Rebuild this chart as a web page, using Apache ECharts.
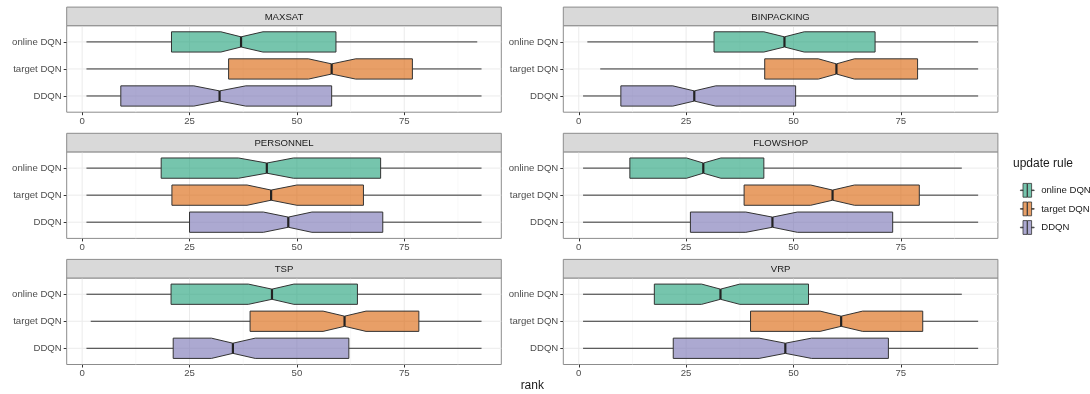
<!DOCTYPE html>
<html><head><meta charset="utf-8">
<script src="https://cdn.jsdelivr.net/npm/echarts@6/dist/echarts.min.js"></script>
<style>html,body{margin:0;padding:0;background:#fff}#c{width:1090px;height:394px}</style>
</head><body><div id="c"></div>
<script>
const rules = ['online DQN', 'target DQN', 'DDQN'];
const problems = ['MAXSAT', 'BINPACKING', 'PERSONNEL', 'FLOWSHOP', 'TSP', 'VRP'];
const xTicks = [0, 25, 50, 75];
const xMinorTicks = [12.5, 37.5, 62.5, 87.5];
const xRange = [-3.6, 97.6];
// per rule: [whiskerLow, q1, notchLow, median, notchHigh, q3, whiskerHigh]
const MAXSAT = [
  [1, 20.8, 32.3, 37.0, 42.1, 59.1, 92.0],
  [1, 34.1, 52.7, 58.1, 63.7, 76.9, 93.0],
  [1, 9.0, 26.0, 32.0, 38.1, 58.1, 93.0]
];
const BINPACKING = [
  [2, 31.5, 43.1, 47.9, 52.5, 69.0, 93.0],
  [5, 43.3, 55.8, 60.0, 64.2, 78.9, 93.0],
  [1, 9.8, 21.9, 26.9, 31.9, 50.5, 93.0]
];
const PERSONNEL = [
  [1, 18.4, 36.4, 43.0, 49.2, 69.5, 93.0],
  [1, 20.9, 38.4, 44.0, 50.0, 65.5, 93.0],
  [1, 25.0, 42.2, 48.0, 53.5, 70.0, 93.0]
];
const FLOWSHOP = [
  [1, 11.9, 25.1, 29.0, 33.1, 43.1, 89.2],
  [1, 38.5, 54.0, 59.1, 64.2, 79.3, 93.0],
  [1, 26.0, 38.9, 45.1, 50.9, 73.1, 93.0]
];
const TSP = [
  [1, 20.7, 38.7, 44.2, 49.3, 64.1, 93.0],
  [2, 39.1, 56.1, 61.1, 66.1, 78.4, 93.0],
  [1, 21.2, 30.1, 35.1, 40.3, 62.1, 93.0]
];
const VRP = [
  [1, 17.6, 28.6, 33.0, 37.5, 53.5, 89.2],
  [1, 40.0, 56.2, 61.1, 66.1, 80.1, 93.0],
  [1, 22.0, 42.0, 48.1, 54.2, 72.1, 93.0]
];
const stats = { MAXSAT, BINPACKING, PERSONNEL, FLOWSHOP, TSP, VRP };
const fills = ['rgba(27,158,119,0.6)', 'rgba(217,95,2,0.6)', 'rgba(117,112,179,0.6)'];

const FONT = 'Liberation Sans';
const colLeft = [66.7, 563.3], panelW = 434.6;
const rowTop = [25.7, 151.9, 278.0], panelH = 86.5, stripH = 18.6;
const yPos = rules.map((r, i) => i + 1);

const grids = [], xAxes = [], yAxes = [], series = [], graphics = [];
problems.forEach((p, i) => {
  const r = Math.floor(i / 2), c = i % 2;
  grids.push({ left: colLeft[c], top: rowTop[r], width: panelW, height: panelH, show: true,
    borderColor: '#8c8c8c', borderWidth: 1, backgroundColor: 'transparent',
    containLabel: false, outerBoundsMode: 'none' });
  xAxes.push({ type: 'value', gridIndex: i, min: xRange[0], max: xRange[1], position: 'bottom',
    axisLine: { show: false, onZero: false }, splitLine: { show: false }, minorTick: { show: false },
    axisTick: { show: true, customValues: xTicks, length: 3, lineStyle: { color: '#333' } },
    axisLabel: { customValues: xTicks, margin: 4, fontSize: 9.6, color: '#4d4d4d', fontFamily: FONT } });
  yAxes.push({ type: 'value', gridIndex: i, min: 0.4, max: 3.6, inverse: true, position: 'left',
    axisLine: { show: false, onZero: false }, splitLine: { show: false },
    axisTick: { show: true, customValues: yPos, length: 3, lineStyle: { color: '#333' } },
    axisLabel: { customValues: yPos, formatter: v => rules[Math.round(v) - 1], margin: 5,
      fontSize: 9.6, color: '#4d4d4d', fontFamily: FONT } });

  const gridData = [];
  xTicks.forEach(v => gridData.push([0, v]));
  xMinorTicks.forEach(v => gridData.push([1, v]));
  yPos.forEach(v => gridData.push([2, v]));
  series.push({ type: 'custom', xAxisIndex: i, yAxisIndex: i, silent: true, z: 1,
    data: gridData, encode: { x: 1, y: 1 },
    renderItem: (params, api) => {
      const t = api.value(0), v = api.value(1);
      let p1, p2;
      if (t < 2) { p1 = api.coord([v, 0.4]); p2 = api.coord([v, 3.6]); }
      else { p1 = api.coord([xRange[0], v]); p2 = api.coord([xRange[1], v]); }
      return { type: 'line', shape: { x1: p1[0], y1: p1[1], x2: p2[0], y2: p2[1] },
        style: { stroke: t === 1 ? '#f3f3f3' : '#ebebeb', lineWidth: t === 1 ? 0.6 : 1 } };
    } });

  rules.forEach((rule, k) => {
    series.push({ type: 'custom', name: rule, xAxisIndex: i, yAxisIndex: i, z: 2,
      itemStyle: { color: fills[k] },
      data: [[k + 1].concat(stats[p][k])], encode: { x: [1, 2, 3, 4, 5, 6, 7], y: 0 },
      renderItem: (params, api) => {
        const y = api.value(0);
        const X = j => api.coord([api.value(j), y])[0];
        const cy = api.coord([0, y])[1];
        const h = Math.abs(api.size([0, 1])[1]) * 0.75;
        const top = cy - h / 2, bot = cy + h / 2, ins = h / 4;
        const lo = X(1), q1 = X(2), nl = X(3), md = X(4), nh = X(5), q3 = X(6), hi = X(7);
        const ls = { stroke: '#333', lineWidth: 1 };
        return { type: 'group', children: [
          { type: 'line', shape: { x1: lo, y1: cy, x2: q1, y2: cy }, style: ls },
          { type: 'line', shape: { x1: q3, y1: cy, x2: hi, y2: cy }, style: ls },
          { type: 'polygon', shape: { points: [[q1, top], [nl, top], [md, top + ins], [nh, top], [q3, top],
            [q3, bot], [nh, bot], [md, bot - ins], [nl, bot], [q1, bot]] },
            style: { fill: fills[k], stroke: '#333', lineWidth: 1 } },
          { type: 'line', shape: { x1: md, y1: top + ins, x2: md, y2: bot - ins },
            style: { stroke: '#222', lineWidth: 2.2 } }
        ] };
      } });
  });

  graphics.push({ type: 'rect', z: 5, shape: { x: colLeft[c], y: rowTop[r] - stripH, width: panelW, height: stripH },
    style: { fill: '#d9d9d9', stroke: '#8c8c8c', lineWidth: 1 } });
  graphics.push({ type: 'text', z: 6, x: colLeft[c] + panelW / 2, y: rowTop[r] - stripH / 2 + 0.5,
    style: { text: p, fontSize: 9.6, fill: '#1a1a1a', align: 'center', verticalAlign: 'middle', fontFamily: FONT } });
});

graphics.push({ type: 'text', x: (colLeft[0] + colLeft[1] + panelW) / 2, y: 386,
  style: { text: 'rank', fontSize: 12, fill: '#1a1a1a', align: 'center', verticalAlign: 'middle', fontFamily: FONT } });
graphics.push({ type: 'text', x: 1013, y: 164,
  style: { text: 'update rule', fontSize: 12, fill: '#1a1a1a', align: 'left', verticalAlign: 'middle', fontFamily: FONT } });

const chart = echarts.init(document.getElementById('c'), null, { renderer: 'canvas' });
chart.setOption({
  animation: false,
  backgroundColor: '#ffffff',
  grid: grids, xAxis: xAxes, yAxis: yAxes, series: series, graphic: graphics,
  legend: { data: rules, orient: 'vertical', left: 1015, top: 178, itemWidth: 13.8, itemHeight: 13.8, itemGap: 4,
    selectedMode: false,
    icon: 'path://M0,6.6H2.6V7.2H0Z M2.6,0H6.7V13.8H2.6Z M7.1,0H11.2V13.8H7.1Z M11.2,6.6H13.8V7.2H11.2Z',
    itemStyle: { borderColor: '#333', borderWidth: 0.8 },
    textStyle: { fontSize: 9.6, color: '#1a1a1a', fontFamily: FONT, padding: [0, 0, 0, 2] } }
});
</script></body></html>
